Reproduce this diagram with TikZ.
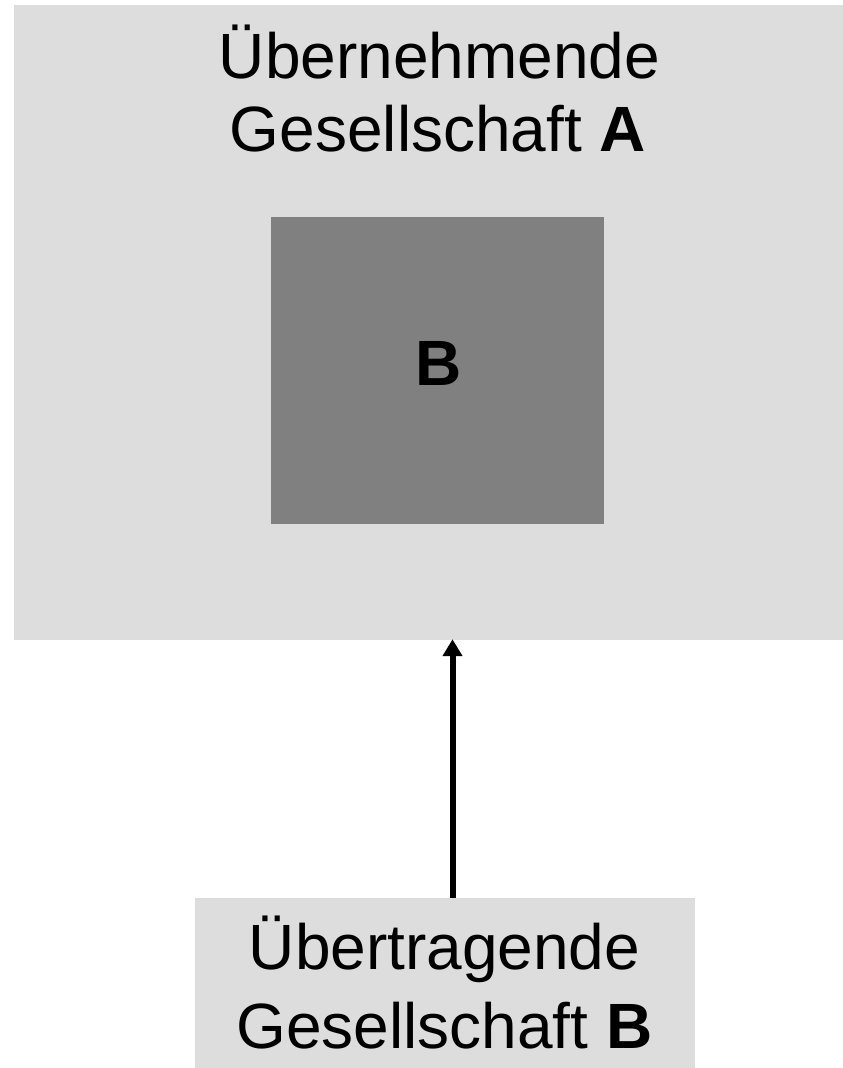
\documentclass[tikz,border=0pt]{standalone}
\usepackage{fontspec}
\setmainfont{Liberation Sans}
\usetikzlibrary{arrows.meta}
\definecolor{lightbox}{HTML}{DDDDDD}
\definecolor{darkbox}{HTML}{808080}
\begin{document}
\begin{tikzpicture}[x=1pt,y=-1pt,
  boxfill/.style={fill=lightbox,draw=none},
  innerfill/.style={fill=darkbox,draw=none},
  txt/.style={inner sep=0pt,anchor=base,font=\fontsize{64}{74}\selectfont},
  arr/.style={line width=6pt,-{Triangle[length=17pt,width=19pt]}}]
\useasboundingbox (0,0) rectangle (843,1068);
% outer box A
\path[boxfill] (14,5) rectangle (843,640);
\node[inner sep=0pt,minimum width=829pt,minimum height=635pt] (abox) at (428.5,322.5) {};
% inner box B
\node[innerfill,inner sep=0pt,minimum width=333pt,minimum height=307pt] (ibox) at (437.5,370.5) {};
\node[txt] (ib) at (438.5,385) {\textbf{B}};
% texts A
\node[txt] (a1) at (439.5,78) {Übernehmende};
\node[txt] (a2) at (438,151.5) {Gesellschaft \textbf{A}};
% bottom box
\node[boxfill,inner sep=0pt,minimum width=500pt,minimum height=170pt] (bbox) at (445,983) {};
\node[txt] (b1) at (444.5,969.5) {Übertragende};
\node[txt] (b2) at (444.5,1048) {Gesellschaft \textbf{B}};
% arrow
\coordinate (ax) at (452.5,0);
\draw[arr] (bbox.north -| ax) -- ([yshift=1pt]abox.south -| ax);
\end{tikzpicture}
\end{document}
